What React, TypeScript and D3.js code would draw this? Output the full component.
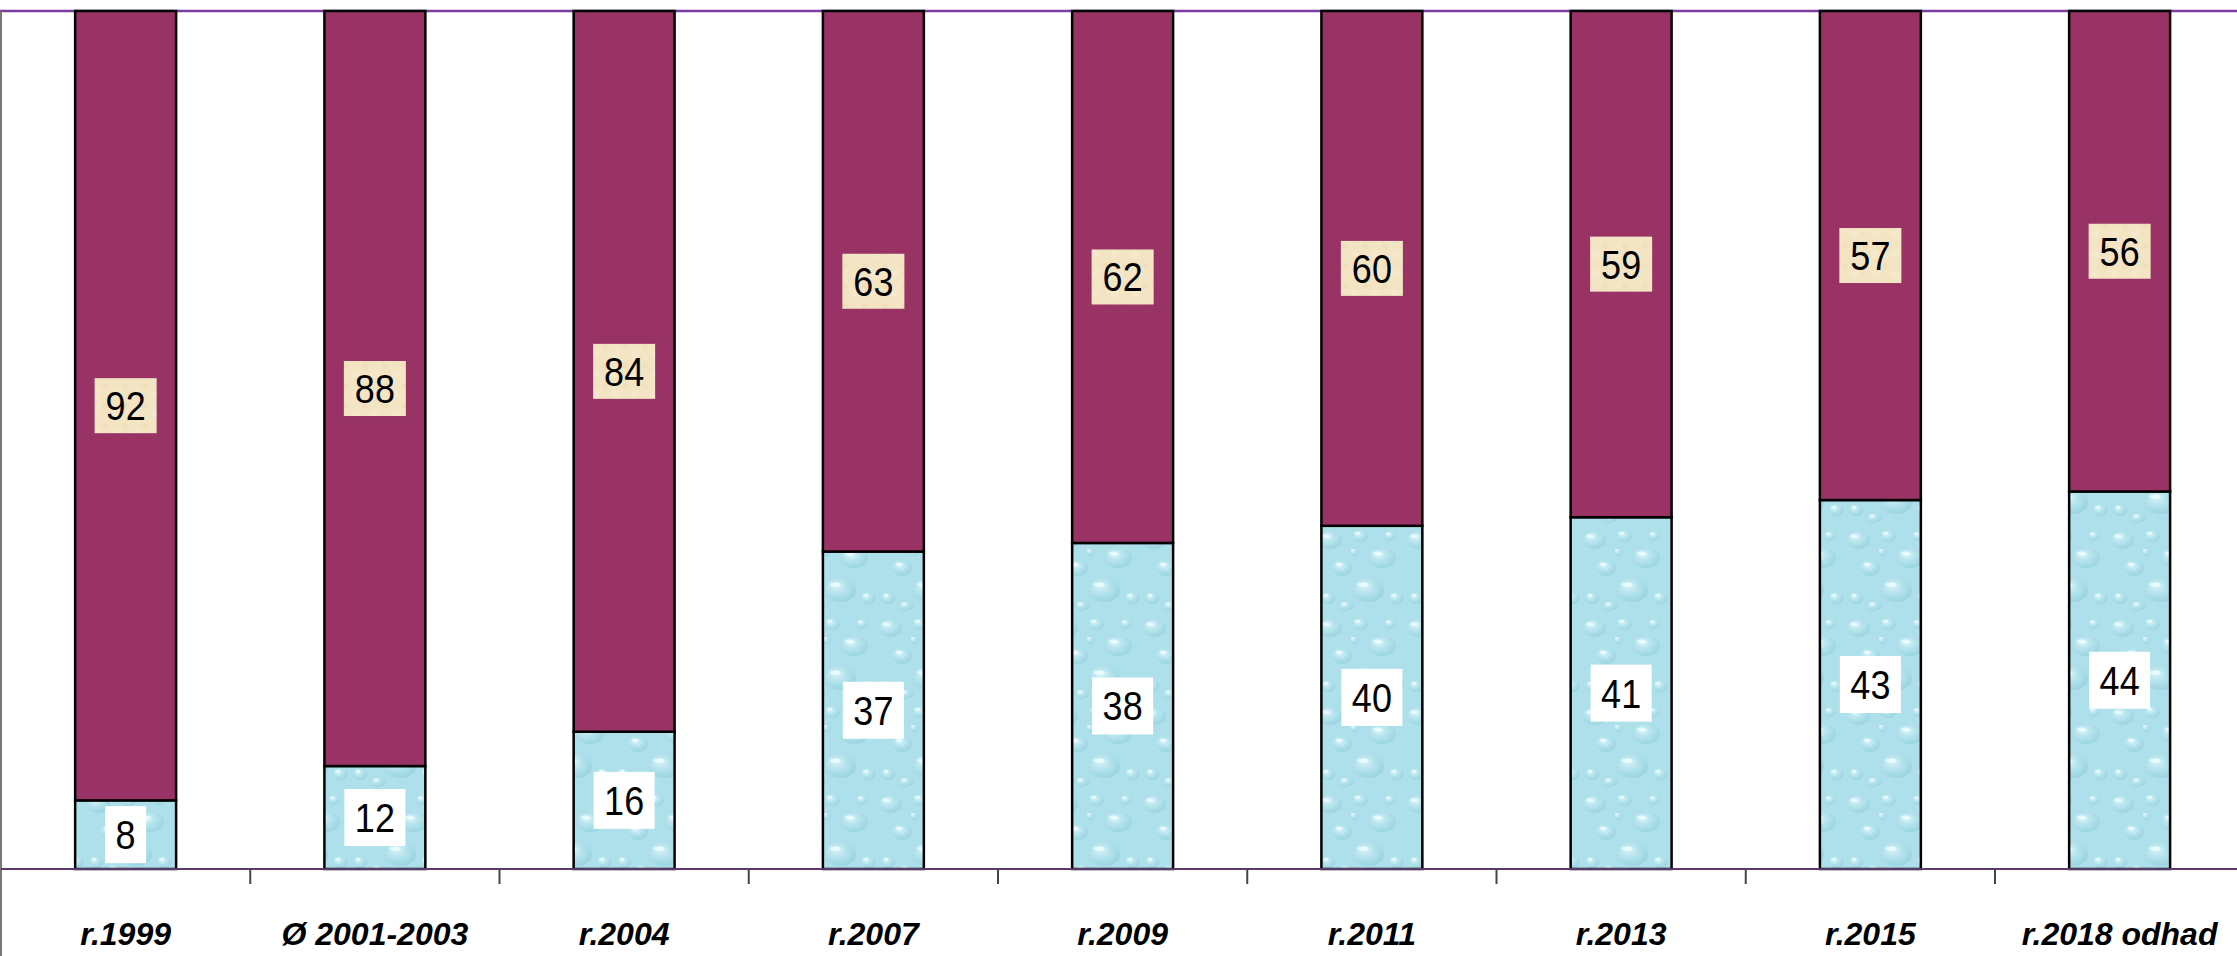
import React from "react";
import * as d3 from "d3";

const categories = ["r.1999", "Ø 2001-2003", "r.2004", "r.2007", "r.2009", "r.2011", "r.2013", "r.2015", "r.2018 odhad"];
const blueValues = [8, 12, 16, 37, 38, 40, 41, 43, 44];
const purpleValues = [92, 88, 84, 63, 62, 60, 59, 57, 56];

const W = 2237;
const H = 956;
const x0 = 1;
const step = 249.25;
const yTop = 11;
const yBottom = 869;

export default function App() {
  const x = d3.scaleBand<string>().domain(categories).range([x0, x0 + step * categories.length]).padding(0);
  const y = d3.scaleLinear().domain([0, 100]).range([yBottom, yTop]);
  const barW = x.bandwidth() * 0.405;
  const font = "'Liberation Sans', Arial, sans-serif";
  const fs = 36;
  const sy = 1.12;
  const charW = fs * 0.556;

  const drops = [
    [10, 12, 12, 9], [40, 8, 8, 6], [62, 30, 14, 10], [22, 40, 10, 8], [48, 62, 16, 12],
    [8, 70, 7, 6], [76, 70, 8, 6], [34, 24, 5, 4], [70, 8, 6, 5], [26, 78, 7, 5],
  ];

  return (
    <svg width={W} height={H} style={{ position: "absolute", left: 0, top: 0, background: "#fff" }}>
      <defs>
        <radialGradient id="dropG" cx="0.4" cy="0.35" r="0.75">
          <stop offset="0" stopColor="#e6fbff" stopOpacity="0.8" />
          <stop offset="0.6" stopColor="#a6dbe6" stopOpacity="0.5" />
          <stop offset="1" stopColor="#7cc2d3" stopOpacity="0.55" />
        </radialGradient>
        <pattern id="water" width="88" height="88" patternUnits="userSpaceOnUse">
          <rect width="88" height="88" fill="#ade0ea" />
          {drops.map(([cx, cy, rx, ry], i) => (
            <g key={i}>
              <ellipse cx={cx} cy={cy} rx={rx} ry={ry} fill="url(#dropG)" />
              <ellipse cx={cx - rx * 0.3} cy={cy - ry * 0.45} rx={rx * 0.35} ry={ry * 0.2} fill="#f2ffff" opacity="0.7" />
            </g>
          ))}
        </pattern>
        <pattern id="parch" width="20" height="20" patternUnits="userSpaceOnUse">
          <rect width="20" height="20" fill="#f3e4c4" />
          <circle cx="5" cy="6" r="3" fill="#efdcb6" opacity="0.6" />
          <circle cx="15" cy="14" r="4" fill="#f7ebd2" opacity="0.6" />
        </pattern>
      </defs>

      <line x1={0} x2={W} y1={yTop} y2={yTop} stroke="#7b3fa0" strokeWidth={2.5} />
      <line x1={x0} x2={x0} y1={yTop} y2={H} stroke="#777" strokeWidth={2} />

      {categories.map((c, i) => {
        const cx = (x(c) as number) + x.bandwidth() / 2;
        const bx = cx - barW / 2;
        const b = blueValues[i];
        const p = purpleValues[i];
        const yb = y(b);
        const yp = y(b + p);
        const bl = String(b);
        const pl = String(p);
        const bw = bl.length * charW + 21;
        const pw = pl.length * charW + 22;
        const bh = 57;
        const bcy = (yb + yBottom) / 2;
        const pcy = (yp + yb) / 2;
        return (
          <g key={c}>
            <rect x={bx} y={yb} width={barW} height={yBottom - yb} fill="url(#water)" stroke="#000" strokeWidth={2.5} />
            <rect x={bx} y={yp} width={barW} height={yb - yp} fill="#993366" stroke="#000" strokeWidth={2.5} />
            <rect x={cx - bw / 2} y={bcy - bh / 2} width={bw} height={bh} fill="#fff" />
            <text transform={`translate(${cx},${bcy + fs * 0.36 * sy}) scale(1,${sy})`} textAnchor="middle" fontFamily={font} fontSize={fs} fill="#000">{bl}</text>
            <rect x={cx - pw / 2} y={pcy - 27.5} width={pw} height={55} fill="url(#parch)" />
            <text transform={`translate(${cx},${pcy + fs * 0.36 * sy}) scale(1,${sy})`} textAnchor="middle" fontFamily={font} fontSize={fs} fill="#000">{pl}</text>
            <text x={cx} y={945} textAnchor="middle" fontFamily={font} fontSize={32} fontWeight="bold" fontStyle="italic" fill="#000">{c}</text>
          </g>
        );
      })}

      <line x1={x0} x2={W} y1={yBottom} y2={yBottom} stroke="#5a3a6a" strokeWidth={2} />
      {categories.map((c, i) => (
        i > 0 ? <line key={"t" + c} x1={x(c) as number} x2={x(c) as number} y1={yBottom} y2={yBottom + 15} stroke="#444" strokeWidth={2} /> : null
      ))}
    </svg>
  );
}
